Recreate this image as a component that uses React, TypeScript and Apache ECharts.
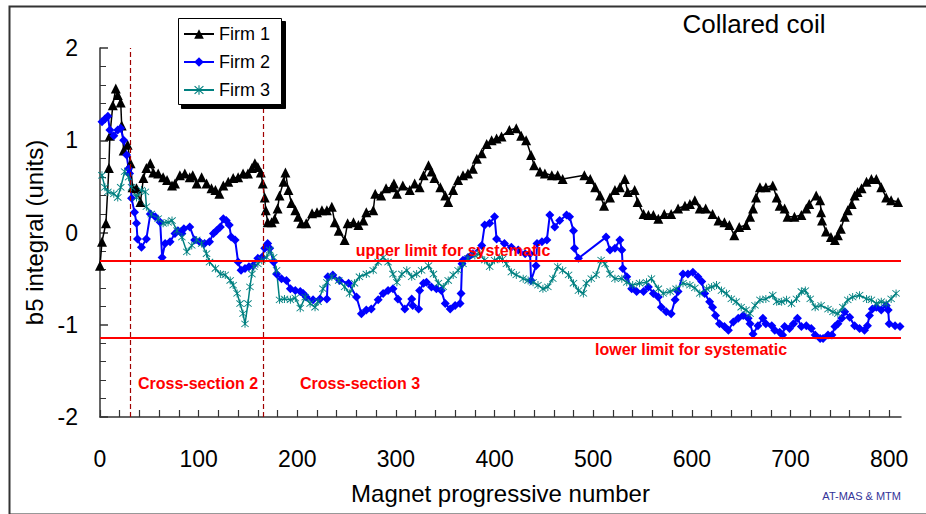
import React, { useEffect, useRef } from "react";
import * as echarts from "echarts";

const FONT = "'Liberation Sans', Arial, sans-serif";

// x tick labels and limits
const xMajorTicks = [0, 100, 200, 300, 400, 500, 600, 700, 800];
const xMinorTicks = [20, 40, 60, 80, 120, 140, 160, 180, 220, 240, 260, 280, 320, 340, 360, 380, 420, 440, 460, 480, 520, 540, 560, 580, 620, 640, 660, 680, 720, 740, 760, 780];
const yTicks = [-2, -1, 0, 1, 2];
const upperLimit = -0.31;
const lowerLimit = -1.14;
const crossSectionBounds = [31, 165];

const firm1 = [
  [0, -0.36], [2, -0.1], [6, 0.1], [9, 0.7], [10, 1.05], [13, 1.38], [16, 1.56], [18, 1.49], [21, 1.41], [22, 1.16], [24, 0.89], [28, 0.95], [31, 0.75], [33, 0.49], [37, 0.48], [41, 0.33], [44, 0.59], [47, 0.7], [51, 0.75], [54, 0.65], [59, 0.64], [64, 0.6], [68, 0.57], [73, 0.51], [76, 0.53], [81, 0.62], [86, 0.64], [91, 0.6], [94, 0.62], [98, 0.53], [103, 0.6], [108, 0.53], [113, 0.48], [117, 0.46], [121, 0.42], [125, 0.51], [130, 0.55], [135, 0.59], [140, 0.6], [145, 0.64], [150, 0.64], [154, 0.7], [157, 0.75], [160, 0.71], [163, 0.65], [165, 0.53], [167, 0.38], [168, 0.24], [170, 0.11], [174, 0.11], [177, 0.15], [180, 0.26], [182, 0.4], [186, 0.55], [188, 0.65], [191, 0.46], [194, 0.32], [198, 0.24], [201, 0.17], [204, 0.1], [209, 0.1], [215, 0.21], [220, 0.22], [225, 0.24], [230, 0.24], [235, 0.28], [238, 0.11], [242, 0.02], [248, -0.08], [251, 0.1], [257, 0.11], [262, 0.08], [267, 0.13], [270, 0.22], [277, 0.24], [279, 0.42], [285, 0.4], [290, 0.48], [296, 0.49], [298, 0.53], [301, 0.42], [307, 0.51], [314, 0.46], [319, 0.53], [324, 0.49], [328, 0.62], [333, 0.73], [336, 0.66], [339, 0.59], [345, 0.49], [350, 0.4], [353, 0.33], [358, 0.46], [363, 0.57], [368, 0.62], [373, 0.64], [378, 0.69], [382, 0.8], [387, 0.86], [392, 0.96], [397, 1.0], [402, 1.02], [407, 1.04], [415, 1.11], [422, 1.13], [427, 1.05], [432, 1.0], [437, 0.84], [440, 0.73], [446, 0.66], [451, 0.64], [458, 0.62], [464, 0.62], [469, 0.58], [491, 0.62], [497, 0.58], [502, 0.49], [507, 0.4], [511, 0.29], [517, 0.38], [522, 0.46], [527, 0.49], [532, 0.58], [535, 0.44], [542, 0.46], [545, 0.33], [551, 0.2], [556, 0.19], [561, 0.19], [566, 0.15], [572, 0.2], [579, 0.2], [586, 0.26], [593, 0.29], [598, 0.31], [603, 0.35], [608, 0.26], [614, 0.26], [621, 0.2], [627, 0.13], [633, 0.11], [638, 0.08], [643, -0.03], [648, 0.06], [655, 0.08], [659, 0.17], [662, 0.26], [665, 0.38], [669, 0.49], [675, 0.49], [682, 0.51], [686, 0.38], [689, 0.29], [694, 0.26], [697, 0.17], [704, 0.17], [711, 0.19], [716, 0.26], [719, 0.31], [726, 0.4], [730, 0.35], [731, 0.22], [732, 0.13], [736, 0.01], [741, -0.05], [745, -0.08], [748, -0.03], [751, 0.04], [755, 0.17], [758, 0.24], [762, 0.31], [765, 0.4], [768, 0.44], [772, 0.48], [777, 0.55], [782, 0.58], [787, 0.58], [792, 0.49], [797, 0.38], [802, 0.35], [809, 0.33],
];

const firm2 = [
  [2, 1.2], [5, 1.23], [8, 1.26], [10, 1.11], [14, 1.05], [18, 1.11], [21, 1.13], [24, 1.0], [27, 0.84], [29, 0.69], [30, 0.64], [32, 0.37], [35, 0.22], [37, 0.1], [38, -0.07], [42, -0.16], [47, -0.07], [51, 0.2], [56, 0.17], [61, 0.11], [63, -0.27], [66, -0.12], [71, -0.1], [76, -0.01], [79, 0.02], [83, -0.01], [85, 0.04], [91, 0.06], [96, -0.08], [101, -0.1], [106, -0.12], [111, -0.1], [115, -0.01], [118, 0.02], [122, 0.06], [125, 0.15], [128, 0.13], [131, 0.08], [133, -0.05], [137, -0.08], [140, -0.32], [143, -0.41], [147, -0.39], [151, -0.37], [155, -0.36], [160, -0.28], [164, -0.27], [167, -0.17], [170, -0.12], [172, -0.17], [176, -0.32], [179, -0.45], [184, -0.5], [189, -0.52], [193, -0.61], [198, -0.63], [203, -0.64], [206, -0.66], [209, -0.7], [216, -0.73], [223, -0.72], [230, -0.72], [231, -0.48], [236, -0.46], [243, -0.52], [252, -0.55], [260, -0.7], [265, -0.88], [270, -0.84], [275, -0.83], [282, -0.73], [287, -0.66], [292, -0.63], [297, -0.61], [302, -0.72], [309, -0.83], [316, -0.72], [317, -0.79], [323, -0.83], [324, -0.63], [328, -0.55], [331, -0.54], [336, -0.59], [341, -0.61], [346, -0.63], [350, -0.77], [355, -0.83], [360, -0.79], [365, -0.77], [366, -0.66], [367, -0.34], [368, -0.3], [373, -0.27], [378, -0.23], [387, -0.14], [390, 0.08], [395, 0.1], [400, 0.17], [402, -0.07], [410, -0.12], [417, -0.16], [424, -0.19], [431, -0.23], [436, -0.23], [437, -0.52], [442, -0.36], [443, -0.12], [448, -0.1], [453, -0.08], [456, 0.19], [461, 0.06], [466, 0.13], [473, 0.19], [476, 0.17], [480, 0.02], [481, -0.17], [485, -0.28], [513, -0.05], [517, -0.19], [522, -0.17], [527, -0.08], [529, -0.19], [530, -0.39], [534, -0.48], [539, -0.61], [544, -0.64], [551, -0.64], [556, -0.59], [561, -0.66], [566, -0.7], [569, -0.81], [574, -0.86], [579, -0.88], [583, -0.73], [586, -0.64], [591, -0.45], [596, -0.45], [601, -0.43], [606, -0.48], [610, -0.53], [613, -0.66], [618, -0.75], [621, -0.81], [624, -0.9], [628, -0.99], [633, -1.02], [637, -1.06], [642, -0.97], [647, -0.93], [652, -0.9], [657, -0.93], [659, -0.99], [662, -1.1], [667, -1.01], [672, -0.93], [675, -0.99], [681, -1.01], [684, -1.06], [689, -1.08], [692, -1.11], [694, -1.02], [699, -1.04], [703, -0.99], [707, -0.93], [711, -1.02], [716, -1.01], [721, -1.04], [725, -1.11], [730, -1.15], [733, -1.15], [738, -1.11], [742, -1.11], [745, -1.02], [748, -0.99], [752, -0.93], [755, -0.86], [760, -0.92], [765, -1.01], [770, -1.04], [775, -1.06], [778, -1.01], [780, -0.9], [783, -0.83], [787, -0.81], [792, -0.84], [797, -0.79], [799, -0.84], [800, -0.99], [806, -1.01], [811, -1.02],
];

const firm3 = [
  [2, 0.62], [5, 0.49], [8, 0.44], [14, 0.42], [18, 0.38], [21, 0.49], [25, 0.66], [29, 0.6], [32, 0.49], [37, 0.38], [42, 0.46], [46, 0.44], [47, 0.28], [52, 0.2], [59, 0.15], [64, 0.1], [69, 0.11], [73, 0.13], [78, 0.02], [83, -0.05], [88, -0.21], [93, -0.14], [98, -0.08], [103, -0.12], [108, -0.23], [111, -0.32], [117, -0.39], [122, -0.45], [127, -0.46], [132, -0.52], [135, -0.57], [139, -0.66], [142, -0.77], [145, -0.88], [147, -0.99], [150, -0.77], [152, -0.59], [154, -0.45], [156, -0.37], [160, -0.34], [164, -0.3], [169, -0.27], [172, -0.19], [176, -0.27], [179, -0.41], [182, -0.73], [187, -0.72], [193, -0.73], [198, -0.71], [203, -0.82], [208, -0.7], [213, -0.77], [218, -0.81], [221, -0.75], [226, -0.61], [230, -0.54], [235, -0.48], [242, -0.52], [248, -0.59], [253, -0.66], [258, -0.55], [263, -0.48], [270, -0.45], [277, -0.41], [282, -0.32], [287, -0.27], [292, -0.32], [297, -0.45], [301, -0.54], [306, -0.45], [311, -0.41], [316, -0.48], [321, -0.45], [326, -0.41], [333, -0.36], [338, -0.45], [343, -0.55], [348, -0.59], [353, -0.52], [358, -0.46], [363, -0.41], [368, -0.34], [373, -0.28], [380, -0.25], [385, -0.23], [390, -0.3], [395, -0.37], [400, -0.3], [405, -0.27], [408, -0.29], [412, -0.34], [417, -0.43], [422, -0.46], [429, -0.5], [434, -0.52], [439, -0.54], [444, -0.57], [449, -0.61], [454, -0.59], [459, -0.5], [464, -0.37], [469, -0.41], [475, -0.46], [480, -0.55], [485, -0.63], [490, -0.66], [493, -0.55], [498, -0.5], [503, -0.46], [508, -0.3], [512, -0.34], [517, -0.45], [522, -0.5], [529, -0.5], [534, -0.54], [540, -0.57], [547, -0.55], [554, -0.54], [559, -0.5], [566, -0.61], [571, -0.66], [578, -0.64], [584, -0.61], [591, -0.55], [598, -0.57], [603, -0.6], [608, -0.66], [615, -0.61], [620, -0.59], [625, -0.57], [630, -0.63], [635, -0.66], [640, -0.72], [645, -0.75], [650, -0.81], [655, -0.84], [659, -0.88], [664, -0.79], [669, -0.73], [675, -0.72], [682, -0.68], [686, -0.75], [691, -0.75], [696, -0.73], [701, -0.77], [706, -0.72], [711, -0.64], [715, -0.63], [720, -0.72], [725, -0.81], [731, -0.79], [738, -0.83], [743, -0.86], [748, -0.88], [753, -0.81], [758, -0.73], [763, -0.7], [770, -0.68], [777, -0.72], [782, -0.73], [787, -0.77], [792, -0.75], [797, -0.77], [802, -0.72], [807, -0.66],
];

const ASTERISK =
  "path://M4.5,0 L5.5,0 L5.5,10 L4.5,10 Z M0.7,1.4 L1.4,0.7 L9.3,8.6 L8.6,9.3 Z M8.6,0.7 L9.3,1.4 L1.4,9.3 L0.7,8.6 Z";

export default function App() {
  const ref = useRef<HTMLDivElement>(null);

  useEffect(() => {
    if (!ref.current) return;
    const chart = echarts.init(ref.current, null, { renderer: "svg" });

    const redText = (text: string, x: number, y: number) => ({
      type: "text",
      x,
      y,
      z: 10,
      style: {
        text,
        fill: "#ff0000",
        font: `bold 16px ${FONT}`,
        textAlign: "center",
        textVerticalAlign: "middle",
      },
    });

    const allXTicks = [...xMajorTicks, ...xMinorTicks].sort((a, b) => a - b);

    const option: any = {
      animation: false,
      backgroundColor: "#fff",
      textStyle: { fontFamily: FONT },
      grid: { left: 100, right: 25, top: 48, bottom: 97, containLabel: false },
      legend: {
        left: 178,
        top: 18,
        orient: "vertical",
        data: ["Firm 1", "Firm 2", "Firm 3"],
        itemWidth: 30,
        itemHeight: 12,
        itemGap: 8,
        padding: [6, 10, 4, 5],
        backgroundColor: "transparent",
        borderWidth: 0,
        textStyle: { fontSize: 18, lineHeight: 20, color: "#000", fontFamily: FONT },
        z: 20,
      },
      xAxis: {
        type: "value",
        min: 0,
        max: 812,
        interval: 20,
        name: "Magnet progressive number",
        nameLocation: "middle",
        nameGap: 64,
        nameTextStyle: { fontSize: 24, color: "#000", fontFamily: FONT },
        axisLine: { show: true, onZero: false, lineStyle: { color: "#333", width: 1.5 } },
        axisTick: { show: true, inside: true, length: 7, customValues: allXTicks, lineStyle: { color: "#333", width: 1.2 } },
        axisLabel: { fontSize: 23, color: "#000", margin: 30, customValues: xMajorTicks, fontFamily: FONT },
        splitLine: { show: false },
      },
      yAxis: {
        type: "value",
        min: -2,
        max: 2,
        interval: 1,
        name: "b5 integral (units)",
        nameLocation: "middle",
        nameRotate: 90,
        nameGap: 52,
        nameTextStyle: { fontSize: 24, color: "#000", fontFamily: FONT },
        axisLine: { show: true, onZero: false, lineStyle: { color: "#333", width: 1.5 } },
        axisTick: { show: true, inside: true, length: 8, lineStyle: { color: "#333", width: 1.5 } },
        minorTick: { show: true, splitNumber: 5, length: 6, lineStyle: { color: "#333", width: 1 } },
        axisLabel: {
          fontSize: 23,
          color: "#000",
          margin: 22,
          padding: [6, 0, 0, 0],
          fontFamily: FONT,
          formatter: (v: number) => (yTicks.includes(v) ? String(v) : ""),
        },
        splitLine: { show: false },
      },
      series: [
        {
          name: "Firm 1",
          type: "line",
          data: firm1,
          symbol: "triangle",
          symbolSize: 10,
          lineStyle: { color: "#000", width: 1.5 },
          itemStyle: { color: "#000" },
          markLine: {
            silent: true,
            symbol: ["none", "none"],
            label: { show: false },
            lineStyle: { color: "#a00000", width: 1.2, type: [5, 3] },
            data: [
              { yAxis: upperLimit, lineStyle: { color: "#ff0000", width: 2, type: "solid" } },
              { yAxis: lowerLimit, lineStyle: { color: "#ff0000", width: 2, type: "solid" } },
              ...crossSectionBounds.map((v) => ({
                xAxis: v,
                lineStyle: { color: "#a00000", width: 1.2, type: [5, 3] },
              })),
            ],
          },
        },
        {
          name: "Firm 2",
          type: "line",
          data: firm2,
          symbol: "diamond",
          symbolSize: 9,
          lineStyle: { color: "#0000ff", width: 2 },
          itemStyle: { color: "#0000ff" },
        },
        {
          name: "Firm 3",
          type: "line",
          data: firm3,
          symbol: ASTERISK,
          symbolSize: 8,
          lineStyle: { color: "#008080", width: 1.5 },
          itemStyle: { color: "#008080" },
        },
      ],
      graphic: {
        elements: [
          {
            type: "rect",
            silent: true,
            left: 7,
            top: 4,
            z: 0,
            shape: { width: 930, height: 508 },
            style: { fill: "none", stroke: "#333", lineWidth: 2 },
          },
          {
            type: "rect",
            silent: true,
            left: 181,
            top: 21,
            z: 100,
            shape: { width: 104, height: 87 },
            style: { fill: "#000000", stroke: "#000000", lineWidth: 1 },
          },
          {
            type: "rect",
            silent: true,
            left: 178,
            top: 18,
            z: 101,
            shape: { width: 103, height: 86 },
            style: { fill: "#ffffff", stroke: "#000000", lineWidth: 1 },
          },
          {
            type: "text",
            x: 754,
            y: 24,
            style: {
              text: "Collared coil",
              fill: "#000",
              font: `26px ${FONT}`,
              textAlign: "center",
              textVerticalAlign: "middle",
            },
          },
          redText("upper limit for systematic", 453, 250),
          redText("lower limit for systematic", 691, 349),
          redText("Cross-section 2", 198, 383),
          redText("Cross-section 3", 360, 383),
          {
            type: "text",
            x: 901,
            y: 496,
            style: {
              text: "AT-MAS & MTM",
              fill: "#333399",
              font: `11px ${FONT}`,
              textAlign: "right",
              textVerticalAlign: "middle",
            },
          },
        ],
      },
    };

    // legend must sit above the drawn box
    option.legend.z = 200;

    chart.setOption(option);
    return () => chart.dispose();
  }, []);

  return (
    <div
      ref={ref}
      style={{ position: "fixed", left: 0, top: 0, width: 926, height: 514, background: "#fff" }}
    />
  );
}
